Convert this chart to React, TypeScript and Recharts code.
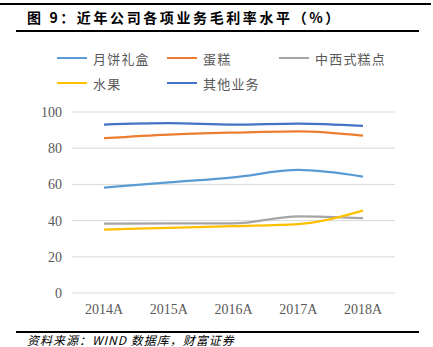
import { LineChart, Line, XAxis, YAxis, CartesianGrid } from 'recharts';

const years = ['2014A', '2015A', '2016A', '2017A', '2018A'];
const mooncake = [58.2, 61.1, 63.9, 68.0, 64.3];
const cake = [85.5, 87.5, 88.6, 89.3, 86.9];
const pastry = [38.3, 38.5, 38.5, 42.4, 41.3];
const fruit = [35.0, 36.0, 37.0, 38.1, 45.5];
const other = [93.0, 93.8, 93.0, 93.6, 92.3];
const yTicks = [0, 20, 40, 60, 80, 100];

const series = [
    { key: 'mooncake', name: '月饼礼盒', color: '#5B9BD5', values: mooncake },
    { key: 'cake', name: '蛋糕', color: '#ED7D31', values: cake },
    { key: 'pastry', name: '中西式糕点', color: '#A5A5A5', values: pastry },
    { key: 'fruit', name: '水果', color: '#FFC000', values: fruit },
    { key: 'other', name: '其他业务', color: '#4472C4', values: other },
];

const data = years.map((year, i) => {
    const row: Record<string, string | number> = { year, idx: i + 0.5 };
    series.forEach((s) => { row[s.key] = s.values[i]; });
    return row;
});

// legend placement, mimicking the two-row excel legend
const legendPos = [
    { left: 57, top: 58 },
    { left: 167, top: 58 },
    { left: 279, top: 58 },
    { left: 57, top: 83 },
    { left: 167, top: 83 },
];

const cjk = '"Noto Sans CJK SC", "Noto Sans", sans-serif';
const serif = '"Liberation Serif", "DejaVu Serif", serif';

export default function App() {
    return (
        <div style={{ position: 'fixed', left: 0, top: 0, width: 433, height: 347, background: '#fff', overflow: 'hidden' }}>
            <div style={{ position: 'absolute', left: 0, top: 3, width: 431, height: 2, background: '#000' }} />
            <div style={{ position: 'absolute', left: 27, top: 7, fontFamily: cjk, fontWeight: 700, fontSize: 14, letterSpacing: 2.6, lineHeight: '20px', color: '#000', whiteSpace: 'nowrap' }}>
                图 9：近年公司各项业务毛利率水平（%）
            </div>
            <div style={{ position: 'absolute', left: 16, top: 30, width: 403, height: 1.5, background: '#000' }} />

            {series.map((s, i) => (
                <div key={s.key} style={{ position: 'absolute', left: legendPos[i].left, top: legendPos[i].top - 10, height: 20, display: 'flex', alignItems: 'center', whiteSpace: 'nowrap' }}>
                    <div style={{ width: 30, height: 2.5, background: s.color }} />
                    <span style={{ marginLeft: 6, fontFamily: cjk, fontSize: 13, letterSpacing: 1.2, color: '#595959' }}>{s.name}</span>
                </div>
            ))}

            <div style={{ position: 'absolute', left: 0, top: 0 }}>
                <LineChart width={433} height={347} data={data} margin={{ top: 112, right: 38, bottom: 24, left: 32 }}>
                    <CartesianGrid vertical={false} stroke="#D9D9D9" />
                    <XAxis
                        xAxisId="bounds"
                        type="number"
                        dataKey="idx"
                        domain={[0, 5]}
                        ticks={[0, 1, 2, 3, 4, 5]}
                        allowDataOverflow
                        height={0}
                        tickSize={4}
                        tickFormatter={() => ''}
                        stroke="#D9D9D9"
                    />
                    <XAxis
                        dataKey="year"
                        height={30}
                        padding={{ left: 32, right: 32 }}
                        axisLine={false}
                        tickLine={false}
                        tick={{ fill: '#595959', fontSize: 14, fontFamily: serif }}
                        dy={3}
                    />
                    <YAxis
                        domain={[0, 100]}
                        ticks={yTicks}
                        width={40}
                        axisLine={false}
                        tickLine={false}
                        tick={{ fill: '#595959', fontSize: 14, fontFamily: serif }}
                        dx={-2}
                    />
                    {series.map((s) => (
                        <Line
                            key={s.key}
                            type="monotone"
                            dataKey={s.key}
                            name={s.name}
                            stroke={s.color}
                            strokeWidth={2.25}
                            dot={false}
                            isAnimationActive={false}
                        />
                    ))}
                </LineChart>
            </div>

            <div style={{ position: 'absolute', left: 16, top: 331, width: 403, height: 1.5, background: '#000' }} />
            <div style={{ position: 'absolute', left: 27, top: 333, fontFamily: cjk, fontStyle: 'italic', fontSize: 12, lineHeight: '14px', letterSpacing: 1, color: '#000', whiteSpace: 'nowrap' }}>
                资料来源：WIND 数据库，财富证券
            </div>
        </div>
    );
}
